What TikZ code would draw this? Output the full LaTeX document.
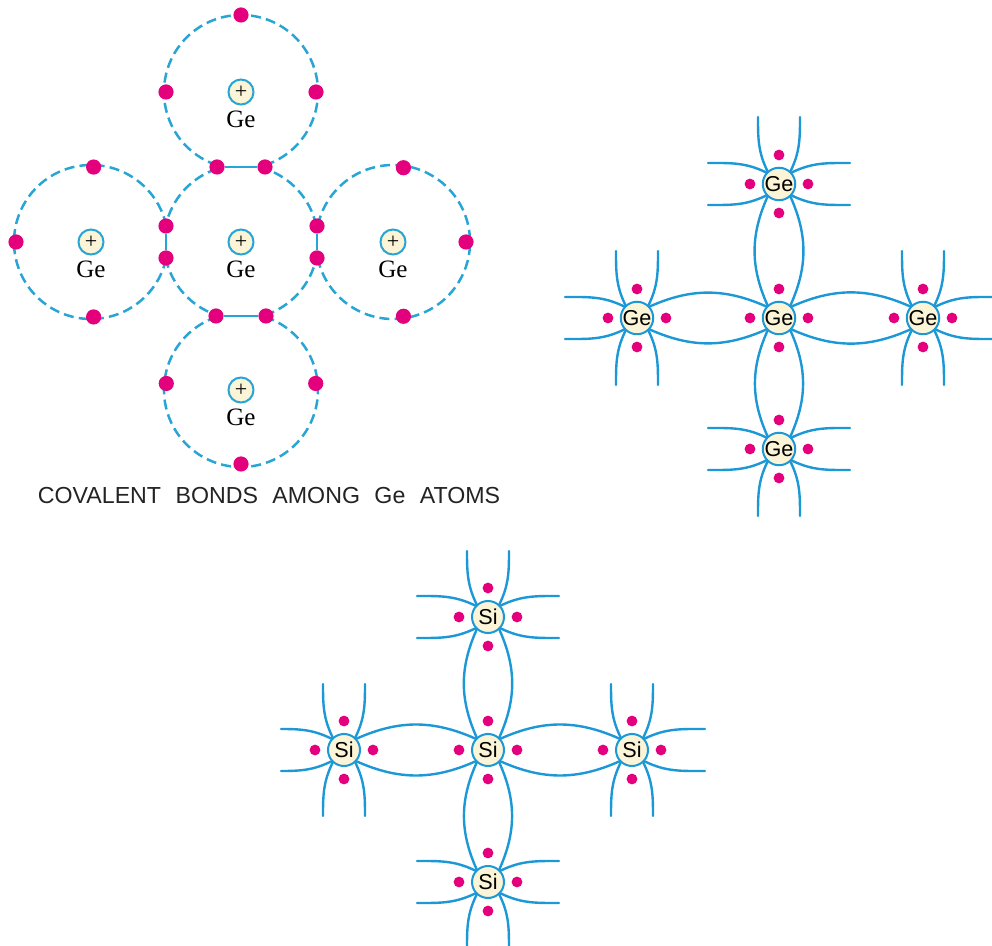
\documentclass[tikz,border=0pt]{standalone}
\usepackage{fontspec}
\setmainfont{Liberation Serif}
\setsansfont{Liberation Sans}
\usetikzlibrary{calc}

\definecolor{orbitblue}{RGB}{40,165,212}
\definecolor{bondblue}{RGB}{28,152,214}
\definecolor{emag}{RGB}{228,0,124}
\definecolor{cream}{RGB}{252,244,214}
\definecolor{captiongray}{RGB}{35,35,35}

% one atom of the crystal with its four valence electrons
\newcommand{\placeatom}[4]{%
  \node[atom] (#1) at (#2,#3) {#4};
  \foreach \a/\s in {0/e,90/n,180/w,270/s}
    \node[valence] (#1-\s) at ($(#1)+(\a:29)$) {};
}
% a shared pair: two curves joining neighbouring atoms along direction #3
\newcommand{\lensbond}[3]{%
  \pgfmathtruncatemacro\ua{mod(#3+42,360)}%
  \pgfmathtruncatemacro\uo{#3+24}%
  \pgfmathtruncatemacro\ub{mod(#3+138,360)}%
  \pgfmathtruncatemacro\ui{#3+156}%
  \pgfmathtruncatemacro\la{mod(#3+318,360)}%
  \pgfmathtruncatemacro\lo{#3-24}%
  \pgfmathtruncatemacro\lb{mod(#3+222,360)}%
  \pgfmathtruncatemacro\li{#3+204}%
  \draw[bond] (#1.\ua) to[out=\uo,in=\ui] (#2.\ub);
  \draw[bond] (#1.\la) to[out=\lo,in=\li] (#2.\lb);
}
% a bond to a neighbour outside the drawing: #2 direction, #3 reach, #4 tag
\newcommand{\openbond}[4]{%
  \pgfmathtruncatemacro\ua{mod(#2+42,360)}%
  \pgfmathtruncatemacro\uo{#2+26}%
  \pgfmathtruncatemacro\la{mod(#2+318,360)}%
  \pgfmathtruncatemacro\lo{#2-26}%
  \pgfmathtruncatemacro\ii{#2+180}%
  \pgfmathtruncatemacro\pu{#2+90}%
  \pgfmathtruncatemacro\pl{#2+270}%
  \coordinate (#1-#4-u) at ($(#1)+(#2:#3)+(\pu:21)$);
  \coordinate (#1-#4-l) at ($(#1)+(#2:#3)+(\pl:21)$);
  \draw[bond] (#1.\ua) to[out=\uo,in=\ii] (#1-#4-u);
  \draw[bond] (#1.\la) to[out=\lo,in=\ii] (#1-#4-l);
}

\begin{document}
\begin{tikzpicture}[x=0.5pt,y=0.5pt,
  orbit/.style={draw=orbitblue, line width=1.25pt, dash pattern=on 5pt off 2.6pt},
  pairline/.style={draw=orbitblue, line width=1.25pt},
  electron/.style={circle, fill=emag, inner sep=0pt, minimum size=7.6pt},
  nucleus/.style={circle, draw=orbitblue, fill=cream, line width=1pt,
    inner sep=0pt, minimum size=12.5pt, font=\fontsize{11}{11}\selectfont},
  element/.style={font=\fontsize{12.5}{12.5}\selectfont},
  atom/.style={circle, draw=bondblue, fill=cream, line width=1pt,
    inner sep=0pt, minimum size=16pt, font=\sffamily\fontsize{10.8}{10.8}\selectfont},
  valence/.style={circle, fill=emag, inner sep=0pt, minimum size=5.4pt},
  bond/.style={draw=bondblue, line width=1.2pt, line cap=round},
]
\useasboundingbox (0,0) rectangle (992,-946);

% ---------- shells of five Ge atoms ----------
\coordinate (cT) at (241,-92);
\coordinate (cM) at (241,-242);
\coordinate (cL) at (91,-242);
\coordinate (cR) at (393,-242);
\coordinate (cB) at (241,-390);

\draw[orbit] (cM) ++(12:77) arc[start angle=12, end angle=72, radius=77];
\draw[orbit] (cM) ++(108:77) arc[start angle=108, end angle=168, radius=77];
\draw[orbit] (cM) ++(192:77) arc[start angle=192, end angle=252, radius=77];
\draw[orbit] (cM) ++(288:77) arc[start angle=288, end angle=348, radius=77];
\draw[orbit] (cT) ++(288:77) arc[start angle=288, end angle=612, radius=77];
\draw[orbit] (cL) ++(12:77) arc[start angle=12, end angle=348, radius=77];
\draw[orbit] (cR) ++(192:77) arc[start angle=192, end angle=528, radius=77];
\draw[orbit] (cB) ++(108:77) arc[start angle=108, end angle=432, radius=77];

% shared electron pairs
\node[electron] (pT1) at (217,-167) {};
\node[electron] (pT2) at (265,-167) {};
\node[electron] (pL1) at (166,-226) {};
\node[electron] (pL2) at (166,-258) {};
\node[electron] (pR1) at (317,-226) {};
\node[electron] (pR2) at (317,-258) {};
\node[electron] (pB1) at (216,-316) {};
\node[electron] (pB2) at (266,-316) {};
\draw[pairline] (pT1) -- (pT2);
\draw[pairline] (pL1) -- (pL2);
\draw[pairline] (pR1) -- (pR2);
\draw[pairline] (pB1) -- (pB2);

% unshared electrons
\node[electron] (eT1) at ($(cT)+(90:77)$) {};
\node[electron] (eT2) at ($(cT)+(180:75)$) {};
\node[electron] (eT3) at ($(cT)+(0:75)$) {};
\node[electron] (eL1) at ($(cL)+(88:75)$) {};
\node[electron] (eL2) at ($(cL)+(180:75)$) {};
\node[electron] (eL3) at ($(cL)+(272:75)$) {};
\node[electron] (eR1) at ($(cR)+(82:75)$) {};
\node[electron] (eR2) at ($(cR)+(0:73)$) {};
\node[electron] (eR3) at ($(cR)+(278:75)$) {};
\node[electron] (eB1) at ($(cB)+(175:75)$) {};
\node[electron] (eB2) at ($(cB)+(5:75)$) {};
\node[electron] (eB3) at ($(cB)+(270:74)$) {};

% nuclei and names
\foreach \c in {T,M,L,R,B}{
  \node[nucleus] (n\c) at (c\c) {+};
  \node[element] (g\c) at ($(c\c)+(0,-27)$) {Ge};
}

\node[text=captiongray, font=\sffamily\fontsize{11.6}{12}\selectfont] (caption) at (269,-496)
  {\spaceskip=0.62em\relax COVALENT BONDS AMONG Ge ATOMS};

% ---------- germanium crystal ----------
\placeatom{GT}{779}{-184}{Ge}
\placeatom{GL}{637}{-318}{Ge}
\placeatom{GC}{779}{-318}{Ge}
\placeatom{GR}{923}{-318}{Ge}
\placeatom{GB}{779}{-449}{Ge}

\lensbond{GL}{GC}{0}
\lensbond{GC}{GR}{0}
\lensbond{GT}{GC}{270}
\lensbond{GC}{GB}{270}

\openbond{GT}{90}{67}{up}
\openbond{GT}{180}{71}{lf}
\openbond{GT}{0}{71}{rt}
\openbond{GL}{90}{67}{up}
\openbond{GL}{270}{67}{dn}
\openbond{GL}{180}{72}{lf}
\openbond{GR}{90}{67}{up}
\openbond{GR}{270}{67}{dn}
\openbond{GR}{0}{71}{rt}
\openbond{GB}{180}{71}{lf}
\openbond{GB}{0}{71}{rt}
\openbond{GB}{270}{67}{dn}

% ---------- silicon crystal ----------
\placeatom{ST}{488}{-617}{Si}
\placeatom{SL}{344}{-750}{Si}
\placeatom{SC}{488}{-750}{Si}
\placeatom{SR}{632}{-750}{Si}
\placeatom{SB}{488}{-882}{Si}

\lensbond{SL}{SC}{0}
\lensbond{SC}{SR}{0}
\lensbond{ST}{SC}{270}
\lensbond{SC}{SB}{270}

\openbond{ST}{90}{66}{up}
\openbond{ST}{180}{71}{lf}
\openbond{ST}{0}{71}{rt}
\openbond{SL}{90}{66}{up}
\openbond{SL}{270}{66}{dn}
\openbond{SL}{180}{63}{lf}
\openbond{SR}{90}{66}{up}
\openbond{SR}{270}{66}{dn}
\openbond{SR}{0}{73}{rt}
\openbond{SB}{180}{71}{lf}
\openbond{SB}{0}{71}{rt}
\openbond{SB}{270}{66}{dn}
\end{tikzpicture}
\end{document}
